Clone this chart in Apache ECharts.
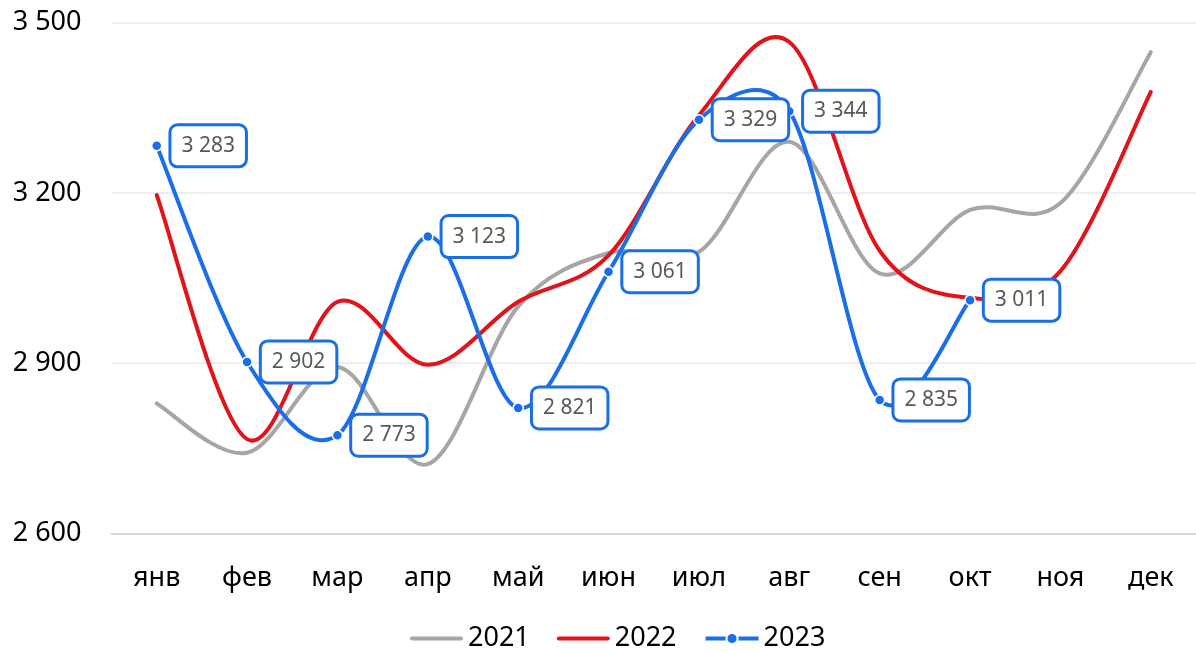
<!DOCTYPE html>
<html>
<head>
<meta charset="utf-8">
<script src="https://cdn.jsdelivr.net/npm/echarts@6/dist/echarts.min.js"></script>
<style>
html,body{margin:0;padding:0;background:#fff;}
#chart{width:1196px;height:651px;}
</style>
</head>
<body>
<div id="chart"></div>
<script>
const months = ['янв','фев','мар','апр','май','июн','июл','авг','сен','окт','ноя','дек'];
const yTicks = [2600, 2900, 3200, 3500];
const s2021 = [2829, 2742, 2893, 2722, 3000, 3094, 3096, 3290, 3058, 3170, 3182, 3448];
const s2022 = [3196, 2766, 3008, 2897, 3008, 3090, 3337, 3466, 3098, 3015, 3062, 3378];
const s2023 = [3283, 2902, 2773, 3123, 2821, 3061, 3329, 3344, 2835, 3011];

const COLORS = {g: '#A6A6A6', r: '#E3131B', b: '#1A6FE8'};
const fmt = v => String(Math.round(v)).replace(/\B(?=(\d{3})+(?!\d))/g, ' ');
const FONT = '"Noto Sans", "Open Sans", sans-serif';
const BAR_ICON = 'path://M2,3H51A2,2 0 0 1 51,7H2A2,2 0 0 1 2,3Z';

// Excel-like smoothed curve (Bezier through the points), built from axis coordinates
function smoothPath(vals, api) {
  const p = vals.map((v, i) => api.coord([i, v]));
  const n = p.length;
  let d = 'M' + p[0][0] + ',' + p[0][1];
  const arm = (a, b, segLen) => {
    const tx = b[0] - a[0], ty = b[1] - a[1];
    const L = Math.hypot(tx, ty) || 1;
    let s = 1 / 6;
    if (L * s > segLen / 2) s = segLen / (2 * L);
    return [tx * s, ty * s];
  };
  for (let i = 0; i < n - 1; i++) {
    const p0 = p[i - 1] || p[i], p1 = p[i], p2 = p[i + 1], p3 = p[i + 2] || p[i + 1];
    const seg = Math.hypot(p2[0] - p1[0], p2[1] - p1[1]);
    const a1 = arm(p0, p2, seg);
    const a2 = arm(p1, p3, seg);
    d += ' C' + (p1[0] + a1[0]) + ',' + (p1[1] + a1[1]) + ' ' +
         (p2[0] - a2[0]) + ',' + (p2[1] - a2[1]) + ' ' + p2[0] + ',' + p2[1];
  }
  return d;
}
function curveSeries(vals, color) {
  return {
    type: 'custom', silent: true, z: 2,
    data: [[0, 3000]],
    renderItem: (params, api) => ({
      type: 'path',
      shape: {pathData: smoothPath(vals, api)},
      style: {fill: 'none', stroke: color, lineWidth: 4, lineCap: 'round', lineJoin: 'round'}
    })
  };
}

const chart = echarts.init(document.getElementById('chart'), null, {renderer: 'canvas'});
chart.setOption({
  animation: false,
  backgroundColor: '#ffffff',
  textStyle: {fontFamily: FONT},
  grid: {left: 111.5, top: 22.7, width: 1091, height: 510.6, containLabel: false},
  legend: {
    left: 405, top: 620,
    itemWidth: 53, itemHeight: 14, itemGap: 27,
    textStyle: {fontSize: 27, color: '#000', fontFamily: FONT},
    lineStyle: {width: 4, opacity: 1},
    data: [
      {name: '2021', icon: BAR_ICON},
      {name: '2022', icon: BAR_ICON},
      {name: '2023'}
    ]
  },
  xAxis: {
    type: 'category',
    data: months,
    boundaryGap: true,
    axisLine: {show: true, lineStyle: {color: '#D9D9E4', width: 2}},
    axisTick: {show: false},
    axisLabel: {fontSize: 27, color: '#000', margin: 32, fontFamily: FONT},
    splitLine: {show: false}
  },
  yAxis: {
    type: 'value',
    min: 2600, max: 3500,
    axisLine: {show: false},
    axisTick: {show: false, customValues: yTicks},
    axisLabel: {fontSize: 27, color: '#000', margin: 30, customValues: yTicks, formatter: fmt, fontFamily: FONT},
    splitLine: {show: true, lineStyle: {color: '#EDEDF3', width: 2}}
  },
  series: [
    curveSeries(s2021, COLORS.g),
    curveSeries(s2022, COLORS.r),
    curveSeries(s2023, COLORS.b),
    {
      name: '2021', type: 'line', data: s2021,
      symbol: 'none', showSymbol: false, silent: true,
      lineStyle: {color: COLORS.g, width: 4, opacity: 0},
      itemStyle: {color: COLORS.g},
      z: 3
    },
    {
      name: '2022', type: 'line', data: s2022,
      symbol: 'none', showSymbol: false, silent: true,
      lineStyle: {color: COLORS.r, width: 4, opacity: 0},
      itemStyle: {color: COLORS.r},
      z: 3
    },
    {
      name: '2023', type: 'line', data: s2023,
      symbol: 'circle', symbolSize: 10, showSymbol: true, silent: true,
      lineStyle: {color: COLORS.b, width: 4, opacity: 0},
      itemStyle: {color: COLORS.b, borderColor: '#fff', borderWidth: 1.5},
      label: {
        show: true, position: 'right', distance: 9,
        formatter: p => fmt(p.value),
        fontSize: 21, color: '#595959', fontFamily: FONT,
        backgroundColor: '#fff', borderColor: COLORS.b, borderWidth: 3, borderRadius: 6,
        padding: [9, 10, 8, 10], lineHeight: 22
      },
      labelLayout: {hideOverlap: false},
      z: 4
    }
  ]
});
</script>
</body>
</html>
